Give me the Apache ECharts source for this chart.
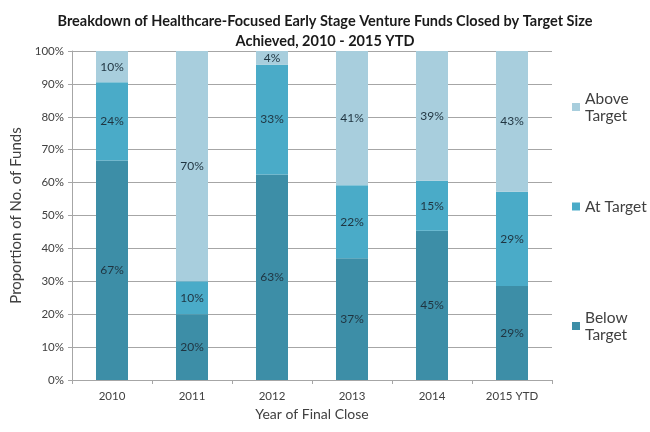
<!DOCTYPE html>
<html>
<head>
<meta charset="utf-8">
<script src="https://cdn.jsdelivr.net/npm/echarts@6/dist/echarts.min.js"></script>
<style>
  html, body { margin: 0; padding: 0; background: #fff; }
  #main { width: 650px; height: 432px; }
</style>
</head>
<body>
<div id="main"></div>
<script>
const years = ['2010', '2011', '2012', '2013', '2014', '2015 YTD']
const belowTarget = [66.7, 20, 62.5, 37, 45.4, 28.6]
const atTarget = [23.8, 10, 33.3, 22.2, 15.2, 28.6]
const aboveTarget = [9.5, 70, 4.2, 40.8, 39.4, 42.8]

const FONT = 'Lato'
const chart = echarts.init(document.getElementById('main'))

const pct = p => Math.round(p.value) + '%'

const barLabel = {
  show: true,
  position: 'inside',
  formatter: pct,
  color: '#1f3440',
  fontFamily: FONT,
  fontSize: 12
}

const legendBase = {
  orient: 'vertical',
  left: 567,
  itemWidth: 8,
  itemHeight: 8,
  itemGap: 6,
  icon: 'rect',
  textStyle: { fontFamily: FONT, fontSize: 15.5, color: '#404040', lineHeight: 17 },
  formatter: name => name.replace(' Target', '\nTarget').replace('At\nTarget', 'At Target')
}

var option = {
  animation: false,
  title: {
    text: 'Breakdown of Healthcare-Focused Early Stage Venture Funds Closed by Target Size\nAchieved, 2010 - 2015 YTD',
    left: 'center',
    top: 6,
    textStyle: { fontFamily: FONT, fontSize: 14.5, fontWeight: 'bold', color: '#1a1a1a', lineHeight: 20 }
  },
  // legend in three parts so the gaps match the picture
  legend: [
    Object.assign({}, legendBase, { top: 85, data: ['Above Target'] }),
    Object.assign({}, legendBase, { top: 193, data: ['At Target'] }),
    Object.assign({}, legendBase, { top: 304, data: ['Below Target'] })
  ],
  grid: { left: 72, right: 98, top: 51, bottom: 52 },
  xAxis: {
    type: 'category',
    data: years,
    name: 'Year of Final Close',
    nameLocation: 'middle',
    nameGap: 27,
    nameTextStyle: { fontFamily: FONT, fontSize: 14, color: '#404040' },
    axisLine: { lineStyle: { color: '#a6a6a6' } },
    axisTick: { show: true, length: 4, lineStyle: { color: '#a6a6a6' } },
    axisLabel: { fontFamily: FONT, fontSize: 11.5, color: '#404040', margin: 10 }
  },
  yAxis: {
    type: 'value',
    min: 0,
    max: 100,
    interval: 10,
    name: 'Proportion of No. of Funds',
    nameLocation: 'middle',
    nameGap: 43,
    nameTextStyle: { fontFamily: FONT, fontSize: 15, color: '#404040' },
    axisLine: { show: true, lineStyle: { color: '#a6a6a6' } },
    axisTick: { show: true, length: 4, lineStyle: { color: '#a6a6a6' } },
    axisLabel: { formatter: '{value}%', fontFamily: FONT, fontSize: 11.5, color: '#404040', margin: 8 },
    splitLine: { lineStyle: { color: '#a6a6a6', width: 1 } }
  },
  series: [
    {
      name: 'Below Target',
      type: 'bar',
      stack: 'total',
      barWidth: 32,
      data: belowTarget,
      itemStyle: { color: '#3d8ea7' },
      label: barLabel
    },
    {
      name: 'At Target',
      type: 'bar',
      stack: 'total',
      barWidth: 32,
      data: atTarget,
      itemStyle: { color: '#4aabc8' },
      label: barLabel
    },
    {
      name: 'Above Target',
      type: 'bar',
      stack: 'total',
      barWidth: 32,
      data: aboveTarget,
      itemStyle: { color: '#a8cedd' },
      label: barLabel
    }
  ]
}

chart.setOption(option)
</script>
</body>
</html>
